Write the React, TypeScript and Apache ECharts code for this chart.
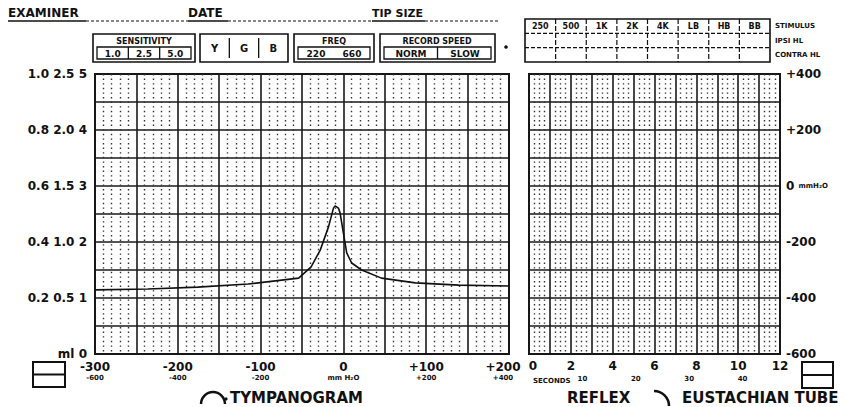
import React, { useEffect, useRef } from "react";
import * as echarts from "echarts";

// Tympanogram trace (pressure daPa / compliance ml)
const pressureDaPa = [-300, -236, -176, -115, -54, -39, -28, -18, -12, -10, -6, -4, 0, 4, 10, 22, 46, 87, 139, 200];
const complianceMl = [0.229, 0.232, 0.239, 0.25, 0.271, 0.311, 0.371, 0.454, 0.521, 0.529, 0.521, 0.504, 0.432, 0.361, 0.325, 0.3, 0.271, 0.254, 0.246, 0.243];

// Tympanogram axes
const tympXTicks = [-300, -200, -100, 0, 100, 200];
const tympXLabels = ["-300", "-200", "-100", "0", "+100", "+200"];
const tympXSubLabels = ["-600", "-400", "-200", "mm H\u2082O", "+200", "+400"];
const tympYTicks = [0, 0.2, 0.4, 0.6, 0.8, 1.0];
const tympYLabels = ["ml 0", "0.2 0.5 1", "0.4 1.0 2", "0.6 1.5 3", "0.8 2.0 4", "1.0 2.5 5"];

// Reflex / Eustachian tube axes
const reflexXTicks = [0, 2, 4, 6, 8, 10, 12];
const reflexXLabels = ["0", "2", "4", "6", "8", "10", "12"];
const secondsTicks = [10, 20, 30, 40];
const secondsLabels = ["10", "20", "30", "40"];
const reflexYTicks = [-600, -400, -200, 0, 200, 400];
const reflexYLabels = ["-600", "-400", "-200", "0", "+200", "+400"];

// Form header texts
const stimulusLabels = ["250", "500", "1K", "2K", "4K", "LB", "HB", "BB"];
const stimulusRowLabels = ["STIMULUS", "IPSI HL", "CONTRA HL"];
const sensitivityLabels = ["1.0", "2.5", "5.0"];
const colorLabels = ["Y", "G", "B"];
const freqLabels = ["220", "660"];
const speedLabels = ["NORM", "SLOW"];

const FONT = "DejaVu Sans";
const INK = "#111";

function tickIndex(list: number[], v: number) {
  return list.findIndex((t) => Math.abs(t - v) < 1e-6);
}

function txt(x: number, y: number, text: string, size: number, align = "center", extra: any = {}) {
  return {
    type: "text",
    x,
    y,
    style: {
      text,
      fill: INK,
      font: `bold ${size}px "${FONT}"`,
      align,
      verticalAlign: "middle",
      ...extra,
    },
  };
}

function ln(x1: number, y1: number, x2: number, y2: number, w = 1.5, dash: any = null) {
  return {
    type: "line",
    shape: { x1, y1, x2, y2 },
    style: { stroke: INK, lineWidth: w, lineDash: dash || undefined },
  };
}

function box(x: number, y: number, w: number, h: number, lw = 1.6) {
  return {
    type: "rect",
    shape: { x, y, width: w, height: h },
    style: { fill: "none", stroke: INK, lineWidth: lw },
  };
}

function buildGraphics() {
  const g: any[] = [];
  // top form line
  g.push(txt(8, 13, "EXAMINER", 12, "left"));
  g.push(ln(8, 21, 86, 21, 1.6));
  g.push(ln(86, 21, 188, 21, 1.2, [3, 2]));
  g.push(txt(188, 13, "DATE", 12, "left"));
  g.push(ln(188, 21, 228, 21, 1.6));
  g.push(ln(228, 21, 372, 21, 1.2, [3, 2]));
  g.push(txt(372, 13, "TIP SIZE", 11, "left"));
  g.push(ln(372, 21, 425, 21, 1.6));
  g.push(ln(425, 21, 498, 21, 1.2, [3, 2]));

  // Sensitivity box
  const by = 34, bh = 28;
  g.push(box(93, by, 102, bh));
  g.push(txt(144, by + 7, "SENSITIVITY", 8));
  g.push(box(97, by + 13, 94, 12, 1.3));
  sensitivityLabels.forEach((s, i) => {
    const cw = 94 / 3;
    g.push(txt(97 + cw * (i + 0.5), by + 19.5, s, 9));
    if (i > 0) g.push(ln(97 + cw * i, by + 13, 97 + cw * i, by + 25, 1.3));
  });
  // Y G B box
  g.push(box(200, by, 88, bh));
  colorLabels.forEach((s, i) => {
    const cw = 88 / 3;
    g.push(txt(200 + cw * (i + 0.5), by + 14, s, 10));
    if (i > 0) g.push(ln(200 + cw * i, by + 4, 200 + cw * i, by + bh - 4, 1.3));
  });
  // FREQ box
  g.push(box(294, by, 80, bh));
  g.push(txt(334, by + 7, "FREQ", 8));
  g.push(box(298, by + 13, 72, 12, 1.3));
  freqLabels.forEach((s, i) => g.push(txt(316 + i * 36, by + 19.5, s, 9)));
  // Record speed box
  g.push(box(380, by, 115, bh));
  g.push(txt(437, by + 7, "RECORD SPEED", 8));
  g.push(box(384, by + 13, 107, 12, 1.3));
  speedLabels.forEach((s, i) => g.push(txt(411 + i * 54, by + 19.5, s, 9)));
  g.push(ln(437.5, by + 13, 437.5, by + 25, 1.3));
  g.push({ type: "circle", shape: { cx: 506, cy: 47, r: 1.8 }, style: { fill: INK } });

  // Stimulus table
  const sx = 525, sw = 245, sy = 19, sh = 43;
  g.push(box(sx, sy, sw, sh));
  const rh = sh / 3;
  g.push(ln(sx, sy + rh, sx + sw, sy + rh, 1.2, [4, 2]));
  g.push(ln(sx, sy + 2 * rh, sx + sw, sy + 2 * rh, 1.2, [4, 2]));
  const cw = sw / stimulusLabels.length;
  stimulusLabels.forEach((s, i) => {
    g.push(txt(sx + cw * (i + 0.5), sy + rh / 2, s, 8));
    if (i > 0) g.push(ln(sx + cw * i, sy, sx + cw * i, sy + sh, 1.2, [5, 2]));
  });
  stimulusRowLabels.forEach((s, i) => g.push(txt(sx + sw + 5, sy + rh * (i + 0.5), s, 7, "left")));

  // bottom legends
  g.push(box(33, 362, 32, 25, 2));
  g.push(ln(33, 374.5, 65, 374.5, 2));
  g.push(box(802, 362, 31, 26, 2));
  g.push(ln(802, 375, 833, 375, 2));
  g.push({
    type: "arc",
    shape: { cx: 213, cy: 404, r: 12, startAngle: Math.PI, endAngle: Math.PI * 2, clockwise: true },
    style: { stroke: INK, lineWidth: 2.5, fill: "none" },
  });
  g.push({ type: "circle", shape: { cx: 226, cy: 399, r: 1.6 }, style: { fill: INK } });
  g.push(txt(230, 398, "TYMPANOGRAM", 15, "left"));
  g.push(txt(567, 398, "REFLEX", 15, "left"));
  g.push({
    type: "arc",
    shape: { cx: 654, cy: 406, r: 15, startAngle: Math.PI * 1.5, endAngle: Math.PI * 2, clockwise: true },
    style: { stroke: INK, lineWidth: 2.5, fill: "none" },
  });
  g.push(txt(682, 398, "EUSTACHIAN TUBE", 15, "left"));
  g.push(txt(533, 381, "SECONDS", 7, "left"));
  return g;
}

const majorLine = { show: true, lineStyle: { color: "#1a1a1a", width: 1.6 } };
const minorLine = { show: true, lineStyle: { color: "#333", width: 1.4, type: [1.4, 3.2] } };

export default function App() {
  const ref = useRef<HTMLDivElement>(null);

  useEffect(() => {
    if (!ref.current) return;
    const chart = echarts.init(ref.current, null, { renderer: "svg" });
    const gridCommon = { show: true, borderColor: INK, borderWidth: 2, backgroundColor: "#fff" };
    const option: any = {
      animation: false,
      backgroundColor: "#fff",
      textStyle: { fontFamily: FONT },
      grid: [
        { ...gridCommon, left: 95, width: 414, top: 74, height: 280 },
        { ...gridCommon, left: 529, width: 251, top: 74, height: 280 },
      ],
      xAxis: [
        {
          type: "value",
          gridIndex: 0,
          min: -300,
          max: 200,
          interval: 50,
          axisLine: { show: false },
          axisTick: { show: false },
          splitLine: majorLine,
          minorTick: { show: false, splitNumber: 5 },
          minorSplitLine: minorLine,
          axisLabel: {
            margin: 6,
            color: INK,
            formatter: (v: number) => {
              const i = tickIndex(tympXTicks, v);
              if (i < 0) return "";
              const last = i === tympXTicks.length - 1;
              return last
                ? `{me|${tympXLabels[i]}}\n{se|${tympXSubLabels[i]}}`
                : `{m|${tympXLabels[i]}}\n{s|${tympXSubLabels[i]}}`;
            },
            rich: {
              m: { fontSize: 12, fontWeight: "bold", fontFamily: FONT, color: INK, lineHeight: 13 },
              s: { fontSize: 7, fontWeight: "bold", fontFamily: FONT, color: INK, lineHeight: 9 },
              me: { fontSize: 12, fontWeight: "bold", fontFamily: FONT, color: INK, lineHeight: 13, padding: [0, 12, 0, 0] },
              se: { fontSize: 7, fontWeight: "bold", fontFamily: FONT, color: INK, lineHeight: 9, padding: [0, 12, 0, 0] },
            },
          },
        },
        {
          type: "value",
          gridIndex: 1,
          min: 0,
          max: 12,
          interval: 1,
          axisLine: { show: false },
          axisTick: { show: false },
          splitLine: majorLine,
          minorTick: { show: false, splitNumber: 4 },
          minorSplitLine: minorLine,
          axisLabel: {
            margin: 6,
            color: INK,
            formatter: (v: number) => {
              const i = tickIndex(reflexXTicks, v);
              if (i < 0) return "";
              return i === 0 ? `{f|${reflexXLabels[i]}}` : `{n|${reflexXLabels[i]}}`;
            },
            rich: {
              n: { fontSize: 12, fontWeight: "bold", fontFamily: FONT, color: INK },
              f: { fontSize: 12, fontWeight: "bold", fontFamily: FONT, color: INK, padding: [0, 0, 0, 8] },
            },
          },
        },
        {
          type: "value",
          gridIndex: 1,
          position: "bottom",
          offset: 15,
          min: 0,
          max: 47,
          interval: 10,
          axisLine: { show: false },
          axisTick: { show: false },
          splitLine: { show: false },
          axisLabel: {
            margin: 6,
            color: INK,
            fontSize: 7,
            fontWeight: "bold",
            fontFamily: FONT,
            formatter: (v: number) => {
              const i = tickIndex(secondsTicks, v);
              return i < 0 ? "" : secondsLabels[i];
            },
          },
        },
      ],
      yAxis: [
        {
          type: "value",
          gridIndex: 0,
          min: 0,
          max: 1,
          interval: 0.1,
          axisLine: { show: false },
          axisTick: { show: false },
          splitLine: majorLine,
          minorSplitLine: { show: false },
          axisLabel: {
            margin: 8,
            color: INK,
            fontSize: 12,
            fontWeight: "bold",
            fontFamily: FONT,
            formatter: (v: number) => {
              const i = tickIndex(tympYTicks, v);
              return i < 0 ? "" : tympYLabels[i];
            },
          },
        },
        {
          type: "value",
          gridIndex: 1,
          position: "right",
          min: -600,
          max: 400,
          interval: 100,
          axisLine: { show: false },
          axisTick: { show: false },
          splitLine: majorLine,
          axisLabel: {
            margin: 6,
            color: INK,
            fontSize: 12,
            fontWeight: "bold",
            fontFamily: FONT,
            formatter: (v: number) => {
              const i = tickIndex(reflexYTicks, v);
              if (i < 0) return "";
              return v === 0 ? `${reflexYLabels[i]} {u|mmH\u2082O}` : reflexYLabels[i];
            },
            rich: { u: { fontSize: 7, fontWeight: "bold", fontFamily: FONT, color: INK } },
          },
        },
      ],
      series: [
        {
          type: "line",
          xAxisIndex: 0,
          yAxisIndex: 0,
          data: pressureDaPa.map((p, i) => [p, complianceMl[i]]),
          showSymbol: false,
          symbol: "none",
          lineStyle: { color: INK, width: 1.6 },
          z: 5,
        },
      ],
      graphic: buildGraphics(),
    };
    chart.setOption(option);
    return () => chart.dispose();
  }, []);

  return (
    <div
      ref={ref}
      style={{ position: "absolute", left: 0, top: 0, width: 845, height: 407, background: "#fff" }}
    />
  );
}
